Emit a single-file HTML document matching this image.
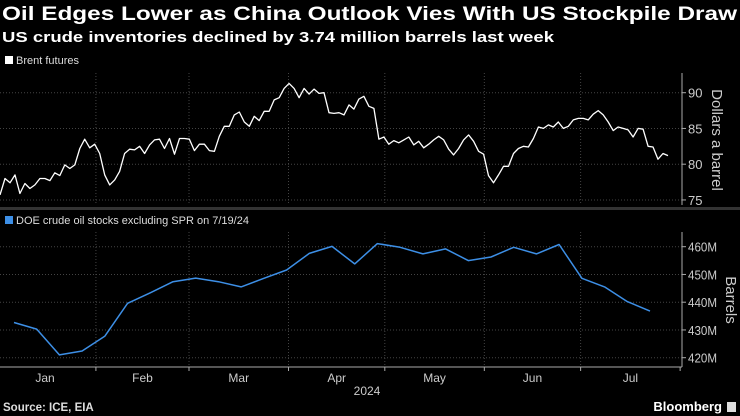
<!DOCTYPE html>
<html><head><meta charset="utf-8"><style>
html,body{margin:0;padding:0;background:#000;}
svg{display:block;font-family:"Liberation Sans",sans-serif;}
</style></head><body>
<svg id="c" width="740" height="416" viewBox="0 0 740 416">
<rect width="740" height="416" fill="#000"/>
<text x="2" y="20" fill="#fff" font-size="19" font-weight="bold" textLength="735" lengthAdjust="spacingAndGlyphs">Oil Edges Lower as China Outlook Vies With US Stockpile Draw</text>
<text x="2" y="42" fill="#fff" font-size="15" font-weight="bold" textLength="552" lengthAdjust="spacingAndGlyphs">US crude inventories declined by 3.74 million barrels last week</text>
<rect x="5" y="56" width="8" height="8" fill="#fff"/>
<text x="16" y="64" fill="#ddd" font-size="11">Brent futures</text>
<rect x="0" y="207" width="740" height="3" fill="#333"/>
<rect x="5" y="216" width="8" height="8" fill="#3d8fe6"/>
<text x="16" y="224" fill="#ddd" font-size="11">DOE crude oil stocks excluding SPR on 7/19/24</text>
<g id="grid"></g>
<g id="marks"></g>
<text transform="translate(712,140) rotate(90)" text-anchor="middle" fill="#ccc" font-size="15">Dollars a barrel</text>
<text transform="translate(726,300) rotate(90)" text-anchor="middle" fill="#ccc" font-size="15">Barrels</text>
<text x="367" y="395" text-anchor="middle" fill="#ccc" font-size="12">2024</text>
<text x="3" y="411" fill="#ddd" font-size="11.5" font-weight="bold">Source: ICE, EIA</text>
<text x="722" y="411" text-anchor="end" fill="#fff" font-size="13" font-weight="bold">Bloomberg</text>
<rect x="727" y="402" width="9" height="10" fill="#ddd"/>
</svg>
<script>
const brentValues=[75.7,78.0,77.4,78.5,75.9,77.3,76.6,77.1,78.0,78.0,77.7,78.8,78.4,79.9,79.4,79.9,82.2,83.5,82.3,82.8,81.5,78.5,77.1,77.8,79.0,81.5,82.1,82.0,82.5,81.5,82.7,83.4,83.5,82.2,83.6,81.4,83.6,83.6,83.5,81.9,82.8,82.8,81.9,81.8,83.9,85.3,85.3,86.9,87.3,85.9,85.3,86.7,86.1,87.4,87.4,89.0,89.3,90.6,91.3,90.6,89.3,90.6,89.8,90.5,89.9,90.0,87.2,87.1,87.2,86.9,88.3,87.7,89.1,89.5,88.1,87.8,83.5,83.8,82.8,83.3,83.0,83.4,83.8,82.7,83.2,82.3,82.8,83.4,83.9,83.4,82.1,81.3,82.2,83.4,84.1,83.2,81.8,81.4,78.4,77.4,78.5,79.7,79.7,81.5,82.2,82.5,82.4,83.6,85.2,85.0,85.5,85.2,85.9,85.0,85.3,86.2,86.4,86.4,86.2,87.0,87.5,86.9,85.9,84.7,85.2,85.0,84.8,83.8,85.0,84.9,82.5,82.4,80.7,81.5,81.2];
const stockValues=[432.7,430.3,421.0,422.4,427.8,439.6,443.4,447.4,448.7,447.4,445.5,448.6,451.6,457.6,460.1,453.8,461.1,459.8,457.4,459.2,455.0,456.3,459.8,457.4,460.8,448.6,445.5,440.2,436.8];
const brentTicks=[75,80,85,90];
const stockTicks=[420,430,440,450,460];
const stockTickLabels=["420M","430M","440M","450M","460M"];
const monthLabels=["Jan","Feb","Mar","Apr","May","Jun","Jul"];
const monthBoundaries=[31,60,91,121,152,182];

const NS="http://www.w3.org/2000/svg";
const grid=document.getElementById('grid'),marks=document.getElementById('marks');
function mk(tag,attrs,parent){const e=document.createElementNS(NS,tag);for(const k in attrs)e.setAttribute(k,attrs[k]);parent.appendChild(e);return e;}
const yB=v=>92.7+(90-v)*7.15;
const yS=v=>246.7+(460-v)*2.775;
const xB=i=>i*(668/(brentValues.length-1));
const xS=i=>14+i*((650-14)/(stockValues.length-1));
const xDay=d=>-3.6+d*3.21;
const AX=682;
monthBoundaries.forEach(d=>{
 [[73,205],[232,367]].forEach(r=>{
  const l=mk('line',{x1:xDay(d),x2:xDay(d),y1:r[0],y2:r[1],stroke:'#444','stroke-dasharray':'1,2'},grid);
  
  
 });
});
brentTicks.forEach(v=>{
 const l=mk('line',{x1:0,x2:AX,y1:yB(v),y2:yB(v),stroke:'#444','stroke-dasharray':'1,2'},grid);
 
 
 mk('line',{x1:AX,x2:AX+4,y1:yB(v),y2:yB(v),stroke:'#aaa'},grid);
 const t=mk('text',{x:AX+6,y:yB(v)+5,fill:'#ccc','font-size':13},grid);t.textContent=v;
 
 
});
stockTicks.forEach((v,i)=>{
 const l=mk('line',{x1:0,x2:AX,y1:yS(v),y2:yS(v),stroke:'#444','stroke-dasharray':'1,2'},grid);
 
 
 mk('line',{x1:AX,x2:AX+4,y1:yS(v),y2:yS(v),stroke:'#aaa'},grid);
 const t=mk('text',{x:AX+6,y:yS(v)+5,fill:'#ccc','font-size':13,textLength:29,lengthAdjust:'spacingAndGlyphs'},grid);t.textContent=stockTickLabels[i];
 
 
});
mk('line',{x1:AX,x2:AX,y1:73,y2:205,stroke:'#aaa'},grid);
mk('line',{x1:AX,x2:AX,y1:232,y2:367,stroke:'#aaa'},grid);
mk('line',{x1:0,x2:AX,y1:367,y2:367,stroke:'#aaa'},grid);
const bounds=[0].concat(monthBoundaries,[213]);
monthLabels.forEach((m,i)=>{
 const cx=(xDay(bounds[i])+xDay(bounds[i+1]))/2;
 const t=mk('text',{x:i==0?45:cx,y:382,fill:'#ccc','font-size':12,'text-anchor':'middle'},grid);t.textContent=m;
 
 
 mk('line',{x1:xDay(bounds[i+1]),x2:xDay(bounds[i+1]),y1:367,y2:371,stroke:'#aaa'},grid);
});
const pb=mk('polyline',{points:brentValues.map((v,i)=>xB(i).toFixed(1)+','+yB(v).toFixed(1)).join(' '),fill:'none',stroke:'#fff','stroke-width':1.3,'stroke-linejoin':'round'},marks);


const ps=mk('polyline',{points:stockValues.map((v,i)=>xS(i).toFixed(1)+','+yS(v).toFixed(1)).join(' '),fill:'none',stroke:'#3d8fe6','stroke-width':1.5,'stroke-linejoin':'round'},marks);


</script>
</body></html>
